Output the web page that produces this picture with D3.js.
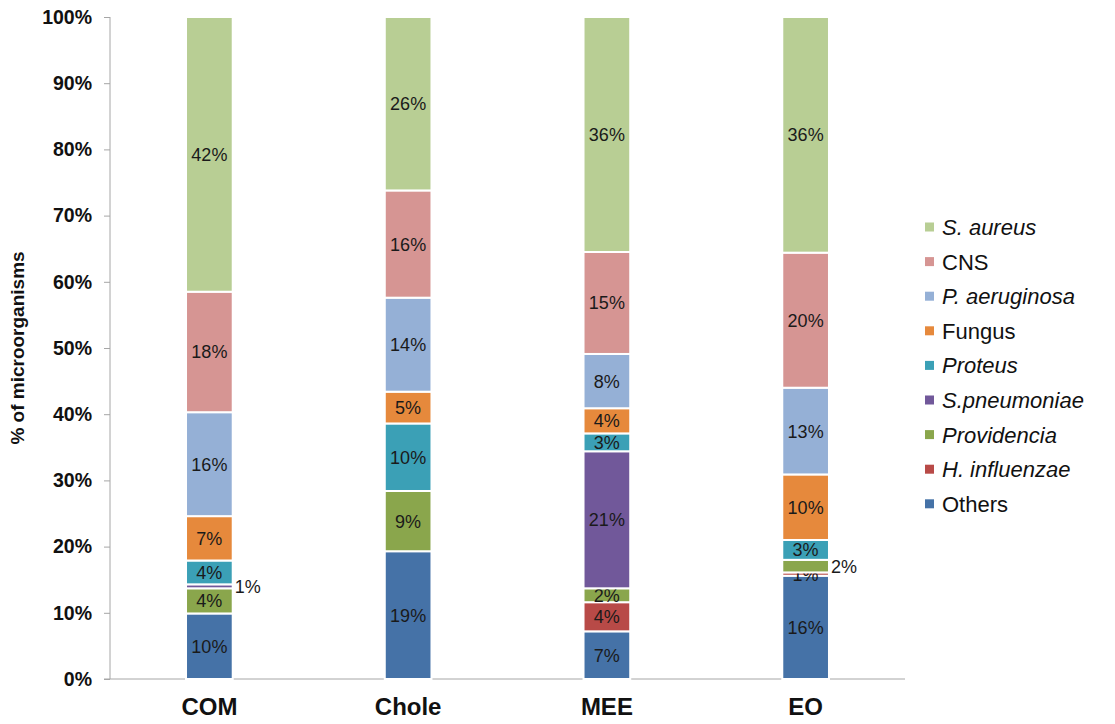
<!DOCTYPE html>
<html>
<head>
<meta charset="utf-8">
<script src="https://cdn.jsdelivr.net/npm/d3@7"></script>
<style>
  body { margin: 0; background: #fff; }
  text { font-family: Arial, "Liberation Sans", sans-serif; }
</style>
</head>
<body>
<div id="chart"></div>
<script>
    console.log("start js")

    // data (percent of microorganisms per group)
    var categories = ["COM", "Chole", "MEE", "EO"];
    var seriesNames = ["Others", "H. influenzae", "Providencia", "S.pneumoniae", "Proteus", "Fungus", "P. aeruginosa", "CNS", "S. aureus"];
    var others       = [9.9, 19.3, 7.2, 15.6];
    var hInfluenzae  = [0, 0, 4.4, 0.5];
    var providencia  = [3.8, 9.1, 2.1, 1.9];
    var sPneumoniae  = [0.6, 0, 20.7, 0];
    var proteus      = [3.6, 10.2, 2.7, 3.0];
    var fungus       = [6.7, 4.8, 3.8, 9.9];
    var pAeruginosa  = [15.7, 14.2, 8.2, 13.1];
    var cns          = [18.2, 16.2, 15.4, 20.4];
    var sAureus      = [41.5, 26.2, 35.5, 35.6];
    var yTicks = [0, 10, 20, 30, 40, 50, 60, 70, 80, 90, 100];
    // labels that sit outside the bar (category|series)
    var outsideLabels = ["COM|S.pneumoniae", "EO|Providencia"];

    var colors = {
        "Others": "#4572a7",
        "H. influenzae": "#b84a47",
        "Providencia": "#8aa64c",
        "S.pneumoniae": "#71589a",
        "Proteus": "#3ba0b6",
        "Fungus": "#e6893c",
        "P. aeruginosa": "#95b0d6",
        "CNS": "#d69593",
        "S. aureus": "#b8ce94"
    };
    var italicNames = ["S. aureus", "P. aeruginosa", "Proteus", "S.pneumoniae", "Providencia", "H. influenzae"];

    var table = categories.map(function (c, i) {
        return {
            cat: c,
            "Others": others[i],
            "H. influenzae": hInfluenzae[i],
            "Providencia": providencia[i],
            "S.pneumoniae": sPneumoniae[i],
            "Proteus": proteus[i],
            "Fungus": fungus[i],
            "P. aeruginosa": pAeruginosa[i],
            "CNS": cns[i],
            "S. aureus": sAureus[i]
        };
    });

    var svgWidth = 1115;
    var svgHeight = 724;

    var svg = d3.select("#chart")
        .append("svg")
        .attr("width", svgWidth)
        .attr("height", svgHeight);

    var xScale = d3.scaleBand()
        .domain(categories)
        .range([110, 905])
        .padding(0);
    var barW = xScale.bandwidth() * 0.235;

    var yScale = d3.scaleLinear()
        .domain([0, 100])
        .range([679, 17]);

    var stacked = d3.stack().keys(seriesNames)(table);

    // y axis
    var yAxis = d3.axisLeft(yScale)
        .tickValues(yTicks)
        .tickSize(6)
        .tickPadding(12)
        .tickFormat(function (d) { return d + "%"; });

    var yg = svg.append("g")
        .attr("transform", "translate(110,0)")
        .call(yAxis);
    yg.select(".domain").attr("stroke", "#a6a6a6").attr("d", "M0,17V679");
    yg.selectAll(".tick line").attr("stroke", "#a6a6a6");
    yg.selectAll(".tick text")
        .attr("font-size", "19.5px")
        .attr("font-weight", "bold")
        .attr("fill", "#111");

    // x axis
    var xAxis = d3.axisBottom(xScale).tickSize(0).tickPadding(19);
    var xg = svg.append("g")
        .attr("transform", "translate(0,679)")
        .call(xAxis);
    xg.select(".domain").attr("stroke", "#a6a6a6").attr("d", "M104,0H905");
    xg.selectAll(".tick text")
        .attr("font-size", "24px")
        .attr("font-weight", "bold")
        .attr("fill", "#111");

    // y axis title
    svg.append("text")
        .attr("transform", "translate(24,348) rotate(-90)")
        .style("text-anchor", "middle")
        .attr("font-size", "19px")
        .attr("font-weight", "bold")
        .attr("fill", "#111")
        .text("% of microorganisms");

    // stacked bars
    var layers = svg.selectAll(".layer")
        .data(stacked)
        .enter()
        .append("g")
        .attr("class", "layer")
        .attr("fill", function (d) { return colors[d.key]; });

    layers.selectAll("rect")
        .data(function (d) { return d.map(function (p) { p.key = d.key; return p; }); })
        .enter()
        .append("rect")
        .attr("x", function (d) { return xScale(d.data.cat) + xScale.bandwidth() / 2 - barW / 2; })
        .attr("y", function (d) { return yScale(d[1]); })
        .attr("width", barW)
        .attr("height", function (d) { return Math.max(0, yScale(d[0]) - yScale(d[1])); })
        .attr("stroke", "#fff")
        .attr("stroke-width", 2)
        .style("display", function (d) { return d[1] - d[0] > 0 ? null : "none"; });

    // data labels
    layers.selectAll(".seg_label")
        .data(function (d) { return d.filter(function (p) { return p[1] - p[0] > 0; }); })
        .enter()
        .append("text")
        .attr("class", "seg_label")
        .attr("x", function (d) {
            var cx = xScale(d.data.cat) + xScale.bandwidth() / 2;
            if (outsideLabels.indexOf(d.data.cat + "|" + d.key) >= 0) return cx + barW / 2 + 2;
            return cx;
        })
        .attr("y", function (d) { return yScale((d[0] + d[1]) / 2); })
        .attr("dy", "0.36em")
        .style("text-anchor", function (d) {
            return outsideLabels.indexOf(d.data.cat + "|" + d.key) >= 0 ? "start" : "middle";
        })
        .attr("font-size", "18px")
        .attr("fill", "#1a1a1a")
        .text(function (d) { return Math.round(d[1] - d[0]) + "%"; });

    // legend, top entry is S. aureus
    var legendOrder = seriesNames.slice().reverse();
    var legend = svg.selectAll(".legend")
        .data(legendOrder)
        .enter()
        .append("g")
        .attr("class", "legend")
        .attr("transform", function (d, i) { return "translate(925," + (227 + i * 34.6) + ")"; });

    legend.append("rect")
        .attr("x", 0)
        .attr("y", -4.5)
        .attr("width", 9)
        .attr("height", 9)
        .attr("fill", function (d) { return colors[d]; });

    legend.append("text")
        .attr("x", 17)
        .attr("dy", "0.36em")
        .attr("font-size", "22px")
        .attr("fill", "#111")
        .style("font-style", function (d) { return italicNames.indexOf(d) >= 0 ? "italic" : "normal"; })
        .text(function (d) { return d; });

    console.log("done")
</script>
</body>
</html>
